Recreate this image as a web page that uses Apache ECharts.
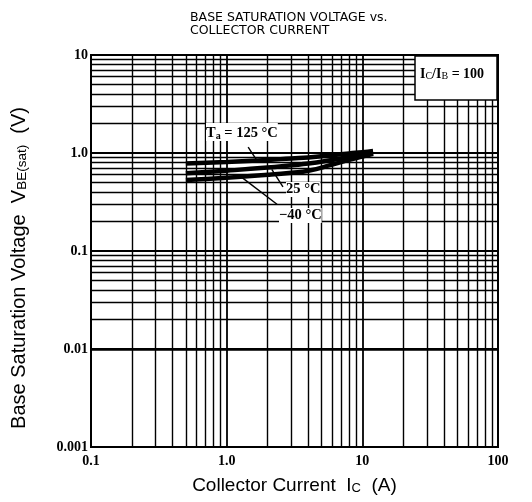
<!DOCTYPE html>
<html>
<head>
<meta charset="utf-8">
<script src="https://cdn.jsdelivr.net/npm/echarts@6/dist/echarts.min.js"></script>
<style>html,body{margin:0;padding:0;background:#fff}#c{width:532px;height:502px}</style>
</head>
<body>
<div id="c"></div>
<script>
// ---- data ----
var xTickLabels = ['0.1', '1.0', '10', '100'];
var yTickLabels = ['0.001', '0.01', '0.1', '1.0', '10'];
var icValues   = [0.5, 1, 2, 3, 4, 6, 8, 10, 12];
var v125 = [0.78, 0.81, 0.85, 0.88, 0.90, 0.95, 0.99, 1.02, 1.05];
var v25  = [0.62, 0.66, 0.71, 0.75, 0.78, 0.85, 0.91, 0.96, 1.00];
var vm40 = [0.53, 0.56, 0.60, 0.63, 0.66, 0.76, 0.85, 0.92, 0.98];
var curveNames = ['Ta=125°C', 'Ta=25°C', 'Ta=-40°C'];

// grid lines at 2..9 of every decade
var minorMult = [2, 3, 4, 5, 6, 7, 8, 9];
var xDecades = [0.1, 1, 10];
var yDecades = [0.001, 0.01, 0.1, 1];

var gridLines = [];
xDecades.forEach(function (d) {
  minorMult.forEach(function (m) { gridLines.push({ xAxis: +(d * m).toPrecision(3) }); });
});
yDecades.forEach(function (d) {
  minorMult.forEach(function (m) { gridLines.push({ yAxis: +(d * m).toPrecision(3) }); });
});

function pairs(ys) { return icValues.map(function (x, i) { return [x, ys[i]]; }); }

var chart = echarts.init(document.getElementById('c'));
var serif = '"Liberation Serif", "DejaVu Serif", serif';
var sans = '"Liberation Sans", Arial, sans-serif';

function curve(name, ys, extra) {
  var s = {
    name: name, type: 'line', data: pairs(ys), smooth: true, showSymbol: false,
    lineStyle: { color: '#000', width: 4.5 }, z: 5, silent: true
  };
  if (extra) Object.assign(s, extra);
  return s;
}

chart.setOption({
  animation: false,
  backgroundColor: '#fff',
  title: {
    text: 'BASE SATURATION VOLTAGE vs.\nCOLLECTOR CURRENT',
    left: 185, top: 6,
    textStyle: { fontFamily: '"DejaVu Sans", sans-serif', fontSize: 12.5, fontWeight: 'normal', color: '#000', lineHeight: 13 }
  },
  grid: { left: 91, right: 34, top: 55, bottom: 55, show: true, borderColor: '#000', borderWidth: 2, backgroundColor: 'transparent' },
  xAxis: {
    type: 'log', logBase: 10, min: 0.1, max: 100,
    name: '{a|Collector Current  I}{s|C}{a|  (A)}',
    nameLocation: 'middle', nameGap: 26,
    nameTextStyle: { rich: {
      a: { fontFamily: sans, fontSize: 19, color: '#000', lineHeight: 22, verticalAlign: 'bottom' },
      s: { fontFamily: sans, fontSize: 13, color: '#000', lineHeight: 22, verticalAlign: 'bottom' }
    } },
    axisLine: { show: true, lineStyle: { color: '#000', width: 2 } },
    axisTick: { show: false },
    splitLine: { show: true, lineStyle: { color: '#000', width: 1.8 } },
    axisLabel: {
      margin: 7, color: '#000', fontFamily: serif, fontSize: 14, fontWeight: 'bold',
      formatter: function (v) { var i = Math.round(Math.log10(v)) + 1; return xTickLabels[i] || ''; }
    }
  },
  yAxis: {
    type: 'log', logBase: 10, min: 0.001, max: 10,
    name: '{a|Base Saturation Voltage  V}{s|BE(sat)}{a|  (V)}{p| }',
    nameLocation: 'middle', nameGap: 62, nameRotate: 90,
    nameTextStyle: { rich: {
      a: { fontFamily: sans, fontSize: 20, color: '#000', lineHeight: 22, verticalAlign: 'bottom' },
      s: { fontFamily: sans, fontSize: 13.5, color: '#000', lineHeight: 22, verticalAlign: 'bottom' },
      p: { width: 34, fontSize: 20, lineHeight: 22 }
    } },
    axisLine: { show: true, lineStyle: { color: '#000', width: 2 } },
    axisTick: { show: false },
    splitLine: { show: true, lineStyle: { color: '#000', width: 1.8 } },
    axisLabel: {
      margin: 3, color: '#000', fontFamily: serif, fontSize: 14, fontWeight: 'bold',
      formatter: function (v) { var i = Math.round(Math.log10(v)) + 3; return yTickLabels[i] || ''; }
    }
  },
  series: [
    curve(curveNames[0], v125, {
      markLine: {
        silent: true, symbol: 'none', animation: false,
        label: { show: false },
        lineStyle: { color: '#000', width: 1.4, type: 'solid' },
        data: gridLines.concat([
          [{ coord: [1.44, 1.15] }, { coord: [1.67, 0.84] }],
          [{ coord: [1.30, 0.56] }, { coord: [2.35, 0.30] }],
          [{ coord: [2.15, 0.68] }, { coord: [2.6, 0.45] }]
        ])
      }
    }),
    curve(curveNames[1], v25),
    curve(curveNames[2], vm40)
  ],
  graphic: [
    { type: 'rect', shape: { x: 415, y: 56, width: 82, height: 44 }, style: { fill: '#fff', stroke: '#000', lineWidth: 1.5 }, z: 100 },
    { type: 'text', x: 420, y: 63, z: 101, style: {
      text: '{a|I}{s|C}{a|/I}{s|B}{a| = 100}',
      rich: {
        a: { fontFamily: serif, fontSize: 14, fontWeight: 'bold', fill: '#000', lineHeight: 18, verticalAlign: 'bottom' },
        s: { fontFamily: serif, fontSize: 10, fill: '#000', lineHeight: 15, verticalAlign: 'bottom' }
      } } },
    { type: 'text', x: 206, y: 123, z: 101, style: {
      text: '{a|T}{s|a}{a| = 125 °C}', backgroundColor: '#fff',
      rich: {
        a: { fontFamily: serif, fontSize: 14.5, fontWeight: 'bold', fill: '#000', lineHeight: 18, verticalAlign: 'bottom' },
        s: { fontFamily: serif, fontSize: 10, fontWeight: 'bold', fill: '#000', lineHeight: 13, verticalAlign: 'bottom' }
      } } },
    { type: 'text', x: 286, y: 182, z: 101, style: { text: '25 °C', backgroundColor: '#fff', fontFamily: serif, fontSize: 14.5, fontWeight: 'bold', fill: '#000' } },
    { type: 'text', x: 279, y: 208, z: 101, style: { text: '−40 °C', backgroundColor: '#fff', fontFamily: serif, fontSize: 14.5, fontWeight: 'bold', fill: '#000' } }
  ]
});
</script>
</body>
</html>
